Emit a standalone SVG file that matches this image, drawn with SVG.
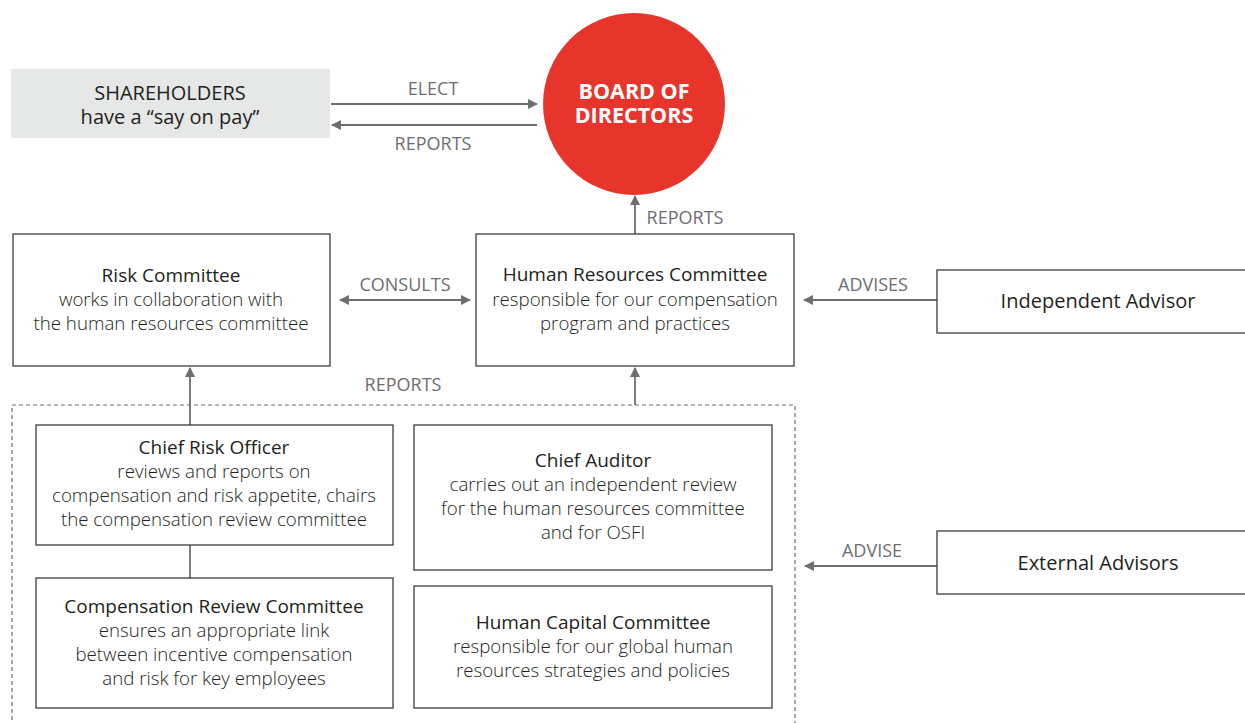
<svg xmlns="http://www.w3.org/2000/svg" width="1245" height="723" viewBox="0 0 1245 723">
  <defs>
    <marker id="arr" viewBox="0 0 10 10" refX="9" refY="5" markerWidth="10" markerHeight="10" markerUnits="userSpaceOnUse" orient="auto-start-reverse">
      <path d="M0,0 L10,5 L0,10 z" fill="#6d6e71"/>
    </marker>
    <style>
      text { font-family: "Open Sans", "Noto Sans", "Liberation Sans", sans-serif; text-anchor: middle; }
      .box { fill: #ffffff; stroke: #3c3c3c; stroke-width: 1.3; }
      .grey { fill: #e6e7e7; stroke: none; }
      .ttl { font-size: 19px; fill: #231f20; font-weight: 400; }
      .txt { font-size: 18.7px; fill: #231f20; font-weight: 300; }
      .big { font-size: 20px; fill: #231f20; font-weight: 400; }
      .lbl { font-size: 18px; fill: #6d6e71; }
      .con { stroke: #6d6e71; stroke-width: 1.8; fill: none; }
      .plain { stroke: #3c3c3c; stroke-width: 1.3; fill: none; }
      .dash { fill: none; stroke: #6d6e71; stroke-width: 1.2; stroke-dasharray: 4 3; }
      .bod { font-size: 21.5px; font-weight: 700; fill: #ffffff; }
    </style>
  </defs>

  <!-- connectors -->
  <g id="connectors">
    <line class="con" x1="331" y1="104" x2="537" y2="104" marker-end="url(#arr)"/>
    <text class="lbl" x="433" y="95">ELECT</text>
    <line class="con" x1="537" y1="125" x2="332" y2="125" marker-end="url(#arr)"/>
    <text class="lbl" x="433" y="150">REPORTS</text>

    <line class="con" x1="635" y1="234" x2="635" y2="196" marker-end="url(#arr)"/>
    <text class="lbl" x="685" y="224">REPORTS</text>

    <line class="con" x1="340" y1="300" x2="470" y2="300" marker-start="url(#arr)" marker-end="url(#arr)"/>
    <text class="lbl" x="405" y="291">CONSULTS</text>

    <line class="con" x1="937" y1="300" x2="804" y2="300" marker-end="url(#arr)"/>
    <text class="lbl" x="873" y="291">ADVISES</text>

    <line class="con" x1="190" y1="425" x2="190" y2="368" marker-end="url(#arr)"/>
    <line class="con" x1="635" y1="405" x2="635" y2="368" marker-end="url(#arr)"/>
    <text class="lbl" x="403" y="391">REPORTS</text>

    <line class="plain" x1="190" y1="545" x2="190" y2="578"/>

    <line class="con" x1="937" y1="566" x2="805" y2="566" marker-end="url(#arr)"/>
    <text class="lbl" x="872" y="557">ADVISE</text>
  </g>

  <!-- management group outline -->
  <rect id="management-group" class="dash" x="12" y="405" width="783" height="330"/>

  <g id="shareholders">
    <rect class="grey" x="11" y="69" width="319" height="69"/>
    <text class="big" x="170" y="100">SHAREHOLDERS</text>
    <text class="big" x="170" y="124">have a “say on pay”</text>
  </g>

  <g id="board">
    <circle cx="634" cy="104" r="91" fill="#e8352b"/>
    <text class="bod" x="634" y="98.5">BOARD OF</text>
    <text class="bod" x="634" y="123">DIRECTORS</text>
  </g>

  <g id="risk-committee">
    <rect class="box" x="13" y="234" width="317" height="132"/>
    <text class="ttl" x="171" y="282">Risk Committee</text>
    <text class="txt" x="171" y="306">works in collaboration with</text>
    <text class="txt" x="171" y="330">the human resources committee</text>
  </g>

  <g id="hr-committee">
    <rect class="box" x="476" y="234" width="318" height="132"/>
    <text class="ttl" x="635" y="281">Human Resources Committee</text>
    <text class="txt" x="635" y="306">responsible for our compensation</text>
    <text class="txt" x="635" y="330">program and practices</text>
  </g>

  <g id="independent-advisor">
    <rect class="box" x="937" y="270" width="320" height="63"/>
    <text class="big" x="1098" y="308">Independent Advisor</text>
  </g>

  <g id="chief-risk-officer">
    <rect class="box" x="36" y="425" width="357" height="120"/>
    <text class="ttl" x="214" y="454">Chief Risk Officer</text>
    <text class="txt" x="214" y="478">reviews and reports on</text>
    <text class="txt" x="214" y="502">compensation and risk appetite, chairs</text>
    <text class="txt" x="214" y="526">the compensation review committee</text>
  </g>

  <g id="chief-auditor">
    <rect class="box" x="414" y="425" width="358" height="145"/>
    <text class="ttl" x="593" y="467">Chief Auditor</text>
    <text class="txt" x="593" y="491">carries out an independent review</text>
    <text class="txt" x="593" y="515">for the human resources committee</text>
    <text class="txt" x="593" y="539">and for OSFI</text>
  </g>

  <g id="compensation-review-committee">
    <rect class="box" x="36" y="578" width="357" height="130"/>
    <text class="ttl" x="214" y="613">Compensation Review Committee</text>
    <text class="txt" x="214" y="637">ensures an appropriate link</text>
    <text class="txt" x="214" y="661">between incentive compensation</text>
    <text class="txt" x="214" y="685">and risk for key employees</text>
  </g>

  <g id="human-capital-committee">
    <rect class="box" x="414" y="586" width="358" height="122"/>
    <text class="ttl" x="593" y="629">Human Capital Committee</text>
    <text class="txt" x="593" y="653">responsible for our global human</text>
    <text class="txt" x="593" y="677">resources strategies and policies</text>
  </g>

  <g id="external-advisors">
    <rect class="box" x="937" y="531" width="320" height="63"/>
    <text class="big" x="1098" y="570">External Advisors</text>
  </g>
</svg>
